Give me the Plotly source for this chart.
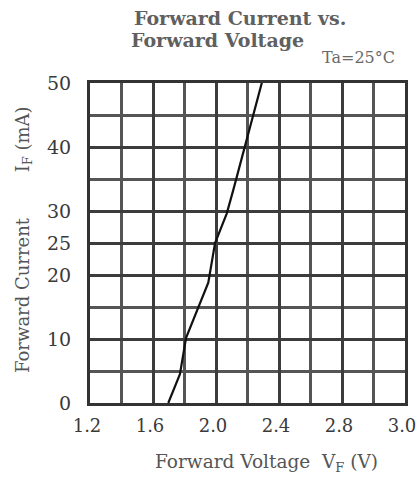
import plotly.graph_objects as go

# Forward voltage (V) vs forward current (mA)
vf = [1.697, 1.771, 1.810, 1.888, 1.951, 1.994, 2.068, 2.110, 2.173, 2.227, 2.296]
i_f = [0, 4.5, 10.2, 14.9, 18.8, 25.0, 29.6, 33.3, 39.0, 44.2, 50.5]

x_tickvals = [1.2, 1.6, 2.0, 2.4, 2.8, 3.2]
x_ticktext = ["1.2", "1.6", "2.0", "2.4", "2.8", "3.0"]
y_tickvals = [0, 10, 20, 25, 30, 40, 50]
y_ticktext = ["0", "10", "20", "25", "30", "40", "50"]

FONT = "DejaVu Serif"
GRID = "#3c3c3c"
TXT = "#3a3a3a"

fig = go.Figure()
fig.add_trace(go.Scatter(x=vf, y=i_f, mode="lines",
                         line=dict(color="#111111", width=2.2),
                         showlegend=False))

fig.update_layout(
    width=418, height=482,
    margin=dict(l=90, r=13, t=83, b=79),
    paper_bgcolor="white", plot_bgcolor="white",
    font=dict(family=FONT, color=TXT),
    annotations=[
        dict(text="<b>Forward Current vs.</b>", xref="paper", yref="paper",
             x=0.476, y=1.0, yshift=65, xanchor="center", yanchor="middle",
             showarrow=False, font=dict(size=19, family=FONT, color="#606060")),
        dict(text="<b>Forward Voltage</b>", xref="paper", yref="paper",
             x=0.406, y=1.0, yshift=43, xanchor="center", yanchor="middle",
             showarrow=False, font=dict(size=19, family=FONT, color="#606060")),
        dict(text="Ta=25°C", xref="paper", yref="paper",
             x=0.975, y=1.0, yshift=26, xanchor="right", yanchor="middle",
             showarrow=False, font=dict(size=16, family=FONT, color="#6a6a6a")),
        dict(text="Forward Voltage  V<sub>F</sub> (V)", xref="paper", yref="paper",
             x=0.56, y=0.0, yshift=-60, xanchor="center", yanchor="middle",
             showarrow=False, font=dict(size=18.5, family=FONT, color="#555555")),
        dict(text="Forward Current        I<sub>F</sub> (mA)", xref="paper", yref="paper",
             x=-0.21, y=0.509, xanchor="center", yanchor="middle", textangle=-90,
             showarrow=False, font=dict(size=18, family=FONT, color="#555555")),
    ],
)

fig.update_xaxes(
    range=[1.2, 3.2000001], tickvals=x_tickvals, ticktext=x_ticktext,
    showgrid=True, gridcolor=GRID, gridwidth=3,
    minor=dict(dtick=0.2, tick0=1.2, showgrid=True, gridcolor="#555555", gridwidth=2.5),
    showline=True, mirror=True, linecolor="#333333", linewidth=3,
    ticks="", ticklabelstandoff=4, automargin=False,
    ticklabelshift=-3, ticklabeloverflow="allow",
    tickfont=dict(size=18, family=FONT, color=TXT),
    zeroline=False,
)
fig.update_yaxes(
    range=[0, 50], tickvals=y_tickvals, ticktext=y_ticktext,
    showgrid=True, gridcolor=GRID, gridwidth=3,
    minor=dict(dtick=5, tick0=0, showgrid=True, gridcolor="#555555", gridwidth=2.5),
    showline=True, mirror=True, linecolor="#333333", linewidth=3,
    ticks="", ticklabelstandoff=12, automargin=False,
    tickfont=dict(size=19, family=FONT, color=TXT),
    zeroline=False,
)

# remove the default page margin so the 418x482 figure fills the window exactly
fig.write_html("out.html", config={"displayModeBar": False},
               post_script="document.body.style.margin='0';")
